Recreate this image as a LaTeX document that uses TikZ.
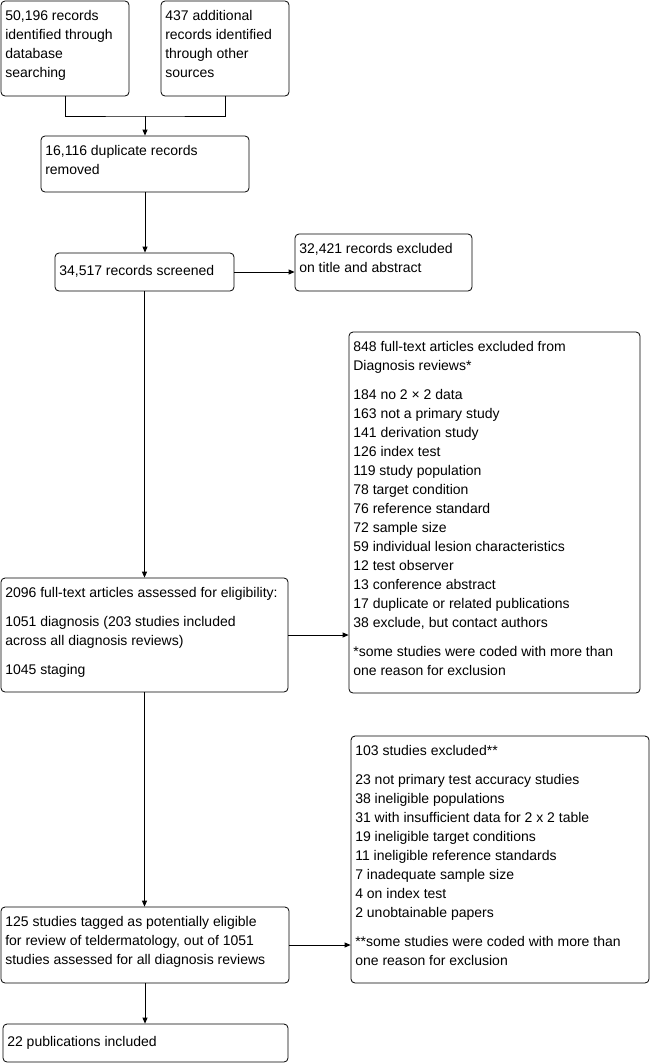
\documentclass[tikz,border=0pt]{standalone}
\usepackage{fontspec}
\setmainfont{Liberation Sans}
\usetikzlibrary{arrows.meta}
\begin{document}
\begin{tikzpicture}[x=1pt,y=-1pt,
  box/.style={draw=black,line width=0.8pt,rounded corners=4pt,inner sep=0pt,fill=white},
  txt/.style={anchor=north west,inner sep=0pt,align=left,font=\fontsize{14}{19}\selectfont,execute at begin node=\strut},
  arr/.style={line width=0.8pt,-{Triangle[length=6pt,width=5pt]}},
  ln/.style={line width=0.8pt}]
\useasboundingbox[fill=white] (0,0) rectangle (650,1063);
% boxes
\node[box,minimum width=128pt,minimum height=95pt] (a) at (65,48.5) {};
\node[box,minimum width=128pt,minimum height=95pt] (b) at (225,48.5) {};
\node[box,minimum width=208pt,minimum height=56pt] (c) at (145,164) {};
\node[box,minimum width=179pt,minimum height=38pt] (d) at (144.5,272) {};
\node[box,minimum width=177pt,minimum height=57pt] (e) at (383.5,262.5) {};
\node[box,minimum width=287pt,minimum height=114pt] (f) at (144.5,635) {};
\node[box,minimum width=291pt,minimum height=361pt] (g) at (494.5,512.5) {};
\node[box,minimum width=288pt,minimum height=76pt] (h) at (145,945) {};
\node[box,minimum width=298pt,minimum height=247pt] (i) at (500,859.5) {};
\node[box,minimum width=285pt,minimum height=38pt] (j) at (145.5,1043) {};
% texts
\node[txt] (ta) at ([xshift=4.5pt,yshift=-9.5pt]a.north west) {50,196 records\\identified through\\database\\searching};
\node[txt] (tb) at ([xshift=4.5pt,yshift=-9.5pt]b.north west) {437 additional\\records identified\\through other\\sources};
\node[txt] (tc) at ([xshift=4.5pt,yshift=-9.5pt]c.north west) {16,116 duplicate records\\removed};
\node[txt] (td) at ([xshift=4.5pt,yshift=-9.5pt]d.north west) {34,517 records screened};
\node[txt] (te) at ([xshift=4.5pt,yshift=-9.5pt]e.north west) {32,421 records excluded\\on title and abstract};
\node[txt] (tf) at ([xshift=4.5pt,yshift=-9.5pt]f.north west) {2096 full-text articles assessed for eligibility:\\[10pt]1051 diagnosis (203 studies included\\across all diagnosis reviews)\\[10pt]1045 staging};
\node[txt] (tg) at ([xshift=4.5pt,yshift=-9.5pt]g.north west) {848 full-text articles excluded from\\Diagnosis reviews*\\[10pt]184 no 2 × 2 data\\163 not a primary study\\141 derivation study\\126 index test\\119 study population\\78 target condition\\76 reference standard\\72 sample size\\59 individual lesion characteristics\\12 test observer\\13 conference abstract\\17 duplicate or related publications\\38 exclude, but contact authors\\[10pt]*some studies were coded with more than\\one reason for exclusion};
\node[txt] (th) at ([xshift=4.5pt,yshift=-9.5pt]h.north west) {125 studies tagged as potentially eligible\\for review of teldermatology, out of 1051\\studies assessed for all diagnosis reviews};
\node[txt] (ti) at ([xshift=4.5pt,yshift=-9.5pt]i.north west) {103 studies excluded**\\[10pt]23 not primary test accuracy studies\\38 ineligible populations\\31 with insufficient data for 2 x 2 table\\19 ineligible target conditions\\11 ineligible reference standards\\7 inadequate sample size\\4 on index test\\2 unobtainable papers\\[10pt]**some studies were coded with more than\\one reason for exclusion};
\node[txt] (tj) at ([xshift=4.5pt,yshift=-9.5pt]j.north west) {22 publications included};
% connectors
\coordinate (m) at (145,116);
\draw[ln] (a.south) |- (m) -| (b.south);
\draw[arr] (m) -- (m |- c.north);
\draw[arr] (c.south) -- (c.south |- d.north);
\draw[arr] (d.east) -- (d.east -| e.west);
\draw[arr] (d.south) -- (d.south |- f.north);
\draw[arr] (f.east) -- (f.east -| g.west);
\draw[arr] (f.south) -- (f.south |- h.north);
\draw[arr] (h.east) -- (h.east -| i.west);
\draw[arr] (h.south) -- (h.south |- j.north);
\end{tikzpicture}
\end{document}
